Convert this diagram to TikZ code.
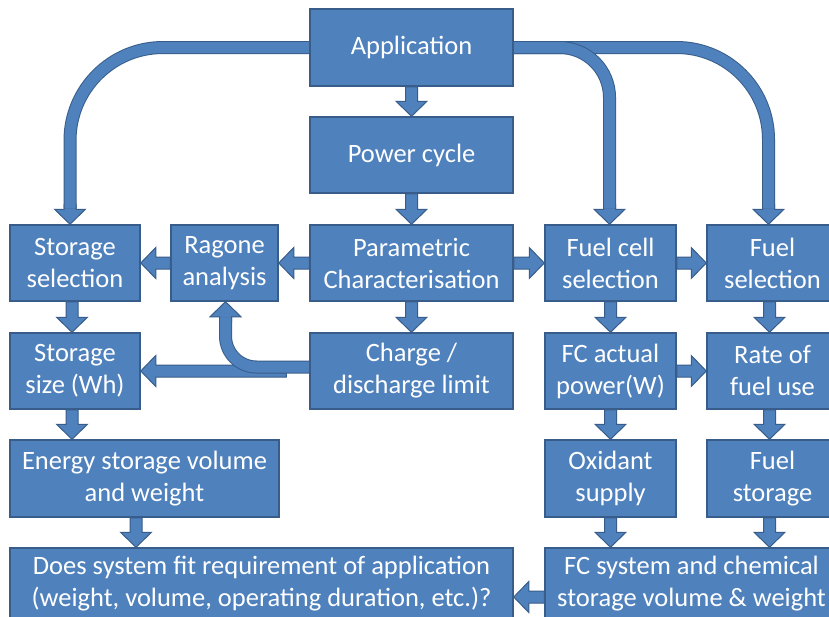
\documentclass[tikz,border=0pt]{standalone}
\usepackage{fontspec}
\setmainfont{Carlito}
\usetikzlibrary{calc}
\definecolor{boxfill}{RGB}{79,129,189}
\definecolor{boxline}{RGB}{56,93,138}
\pgfdeclarelayer{back}
\pgfdeclarelayer{arrows}
\pgfsetlayers{back,arrows,main}
\tikzset{
  box/.style={draw=boxline, fill=boxfill, line width=1.5pt, text=white,
    font=\fontsize{26.5}{32}\selectfont, align=center, inner sep=0pt},
  blk/.style={fill=boxfill, draw=boxline, line width=1pt, line join=miter,
    to path={
      ($(\tikztostart)!6pt!90:(\tikztotarget)$) --
      ($(\tikztotarget)!15pt!(\tikztostart)!6pt!90:(\tikztotarget)$) --
      ($(\tikztotarget)!15pt!(\tikztostart)!15.5pt!90:(\tikztotarget)$) --
      (\tikztotarget) --
      ($(\tikztotarget)!15pt!(\tikztostart)!15.5pt!-90:(\tikztotarget)$) --
      ($(\tikztotarget)!15pt!(\tikztostart)!6pt!-90:(\tikztotarget)$) --
      ($(\tikztostart)!6pt!-90:(\tikztotarget)$) -- cycle}},
  shaft/.style={draw=boxline, line width=1pt, double=boxfill, double distance=11pt}
}
\begin{document}
\begin{tikzpicture}[x=1pt,y=-1pt]
\useasboundingbox (0,0) rectangle (829,616);
\clip (0,0) rectangle (829,616);
\begin{pgfonlayer}{back}
\fill[white] (0,0) rectangle (829,616);
\end{pgfonlayer}
% boxes
\node[box, minimum width=203pt, minimum height=77pt] (app) at (411.5,47.5) {Application};
\node[box, minimum width=203pt, minimum height=76pt] (pc) at (411.5,155) {Power cycle};
\node[box, minimum width=130pt, minimum height=76pt] (stsel) at (75,263) {Storage\\selection};
\node[box, minimum width=107pt, minimum height=76pt] (rag) at (224.5,263) {Ragone\\analysis};
\node[box, minimum width=203pt, minimum height=76pt] (par) at (411.5,263) {Parametric\\Characterisation};
\node[box, minimum width=131pt, minimum height=76pt] (fcsel) at (610.5,263) {Fuel cell\\selection};
\node[box, minimum width=131pt, minimum height=76pt] (fsel) at (772.5,263) {Fuel\\selection};
\node[box, minimum width=130pt, minimum height=76pt] (stsize) at (75,371) {Storage\\size (Wh)};
\node[box, minimum width=203pt, minimum height=76pt] (chg) at (411.5,371) {Charge /\\discharge limit};
\node[box, minimum width=131pt, minimum height=76pt] (fcact) at (610.5,371) {FC actual\\power(W)};
\node[box, minimum width=131pt, minimum height=76pt] (rate) at (772.5,371) {Rate of\\fuel use};
\node[box, minimum width=269pt, minimum height=77pt] (esv) at (144.5,478.5) {Energy storage volume\\and weight};
\node[box, minimum width=131pt, minimum height=77pt] (oxi) at (610.5,478.5) {Oxidant\\supply};
\node[box, minimum width=131pt, minimum height=77pt] (fsto) at (772.5,478.5) {Fuel\\storage};
\node[box, minimum width=503pt, minimum height=72pt] (dsf) at (261.5,584) {Does system fit requirement of application\\(weight, volume, operating duration, etc.)?};
\node[box, minimum width=293pt, minimum height=72pt] (fcsys) at (691.5,584) {FC system and chemical\\storage volume \& weight};
% helper points
\coordinate (s1a) at ($(stsel.south)+(-3,0)$);
\coordinate (s1b) at ($(stsize.north)+(-3,0)$);
\coordinate (s2a) at ($(stsize.south)+(-3,0)$);
\coordinate (s2b) at ($(stsize.south |- esv.north)+(-3,0)$);
\coordinate (f1a) at ($(fsel.south)+(-3,0)$);
\coordinate (f1b) at ($(rate.north)+(-3,0)$);
\coordinate (f2a) at ($(rate.south)+(-3,0)$);
\coordinate (f2b) at ($(fsto.north)+(-3,0)$);
\coordinate (f3a) at ($(fsto.south)+(-3,0)$);
\coordinate (f3b) at ($(fsto.south |- fcsys.north)+(-3,0)$);
\coordinate (o3b) at (oxi.south |- fcsys.north);
\coordinate (e1a) at ($(esv.south)+(-8.5,0)$);
\coordinate (e1b) at ($(esv.south |- dsf.north)+(-8.5,0)$);
\coordinate (split) at ($(chg.west)+(-23,0)$);
\coordinate (b1a) at ($(fcsys.west)+(0,13)$);
\coordinate (b1b) at ($(dsf.east)+(0,13)$);
% curved arrow ends
\coordinate (aT) at ($(stsel.north)+(-5,0)$);
\coordinate (aH) at ($(aT)+(0,-20)$);
\coordinate (aE) at ($(aT)+(0,-16)$);
\coordinate (bT) at ($(fcsel.north)+(-1,0)$);
\coordinate (bH) at ($(bT)+(0,-20)$);
\coordinate (bE) at ($(bT)+(0,-16)$);
\coordinate (cT) at ($(fsel.north)+(-4,0)$);
\coordinate (cH) at ($(cT)+(0,-20)$);
\coordinate (cE) at ($(cT)+(0,-16)$);
\coordinate (dT) at ($(rag.south)+(1,0)$);
\coordinate (dH) at ($(dT)+(0,20)$);
\coordinate (dE) at ($(dT)+(0,16)$);
\coordinate (dS) at ($(chg.west)+(0,-4)$);
\begin{pgfonlayer}{arrows}
\draw[blk] (app.south) to (pc.north);
\draw[blk] (pc.south) to (par.north);
\draw[blk] (par.west) to (rag.east);
\draw[blk] (rag.west) to (stsel.east);
\draw[blk] (par.east) to (fcsel.west);
\draw[blk] (fcsel.east) to (fsel.west);
\draw[blk] (s1a) to (s1b);
\draw[blk] (par.south) to (chg.north);
\draw[blk] (fcsel.south) to (fcact.north);
\draw[blk] (f1a) to (f1b);
\draw[blk] (fcact.east) to (rate.west);
\draw[blk] (split) to (stsize.east);
\draw[blk] (s2a) to (s2b);
\draw[blk] (fcact.south) to (oxi.north);
\draw[blk] (f2a) to (f2b);
\draw[blk] (e1a) to (e1b);
\draw[blk] (oxi.south) to (o3b);
\draw[blk] (f3a) to (f3b);
\draw[blk] (b1a) to (b1b);
% curved arrows
\draw[blk] (aH) to (aT);
\draw[shaft, rounded corners=93pt] (app.west) -| (aE);
\draw[blk] (cH) to (cT);
\draw[shaft, rounded corners=92pt] (app.east) -| (cE);
\draw[blk] (bH) to (bT);
\draw[shaft, rounded corners=50pt] (app.east) -| (bE);
\draw[blk] (dH) to (dT);
\draw[shaft, rounded corners=31pt] (dS) -| (dE);
\end{pgfonlayer}
\end{tikzpicture}
\end{document}
